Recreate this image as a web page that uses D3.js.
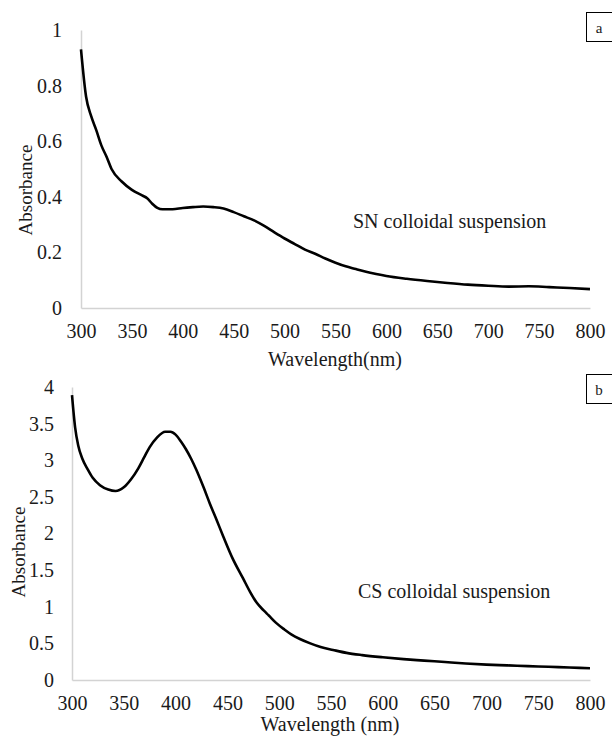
<!DOCTYPE html>
<html>
<head>
<meta charset="utf-8">
<script src="https://cdn.jsdelivr.net/npm/d3@7"></script>
<style>
  html, body { margin: 0; padding: 0; background: #fff; }
  svg { display: block; font-family: "Liberation Serif", "DejaVu Serif", serif; }
</style>
</head>
<body>
<svg id="chart" width="612" height="737"></svg>
<script>
// panel a: SN colloidal suspension
const snWavelength = [300, 305, 310, 315, 320, 325, 330, 340, 350, 360, 365, 370, 375, 380, 390, 400, 410, 420, 430, 440, 450, 460, 470, 480, 490, 500, 510, 520, 530, 540, 550, 560, 570, 580, 590, 600, 620, 640, 660, 680, 700, 720, 740, 760, 780, 800];
const snAbsorbance = [0.93, 0.76, 0.69, 0.64, 0.585, 0.545, 0.50, 0.455, 0.425, 0.405, 0.395, 0.375, 0.36, 0.355, 0.355, 0.36, 0.363, 0.365, 0.363, 0.358, 0.345, 0.33, 0.315, 0.295, 0.272, 0.25, 0.23, 0.21, 0.195, 0.178, 0.163, 0.15, 0.14, 0.13, 0.122, 0.115, 0.105, 0.097, 0.09, 0.084, 0.08, 0.077, 0.078, 0.075, 0.072, 0.068];

// panel b: CS colloidal suspension
const csWavelength = [300, 303, 306, 310, 315, 320, 327, 335, 342, 350, 357, 364, 370, 375, 382, 390, 395, 400, 405, 410, 415, 420, 427, 433, 440, 446, 455, 465, 472, 478, 485, 490, 497, 505, 512, 520, 530, 540, 552, 565, 580, 600, 620, 640, 660, 680, 700, 720, 740, 760, 780, 800];
const csAbsorbance = [3.89, 3.45, 3.2, 3.02, 2.88, 2.76, 2.66, 2.60, 2.58, 2.63, 2.74, 2.89, 3.05, 3.18, 3.31, 3.39, 3.39, 3.35, 3.26, 3.15, 3.02, 2.87, 2.63, 2.41, 2.17, 1.96, 1.66, 1.39, 1.20, 1.06, 0.95, 0.88, 0.78, 0.69, 0.62, 0.56, 0.50, 0.45, 0.41, 0.37, 0.34, 0.31, 0.285, 0.265, 0.245, 0.225, 0.21, 0.20, 0.19, 0.18, 0.17, 0.16];

const xTicks = [300, 350, 400, 450, 500, 550, 600, 650, 700, 750, 800];
const snYTicks = [0, 0.2, 0.4, 0.6, 0.8, 1];
const csYTicks = [0, 0.5, 1, 1.5, 2, 2.5, 3, 3.5, 4];

const FONT = "Liberation Serif, DejaVu Serif, serif";
const svg = d3.select("#chart");

function drawPanel(opt) {
    const data = opt.wl.map((w, i) => ({ w: w, a: opt.abs[i] }));

    const x = d3.scaleLinear().domain([300, 800]).range([opt.left, 590]);
    const y = d3.scaleLinear().domain(opt.yDomain).range([opt.bottom, opt.top]);

    const g = svg.append("g");

    // axes (light grey lines, no tick marks)
    const xAxis = g.append("g")
        .attr("transform", `translate(0,${opt.bottom})`)
        .call(d3.axisBottom(x).tickValues(xTicks).tickSize(0).tickPadding(16).tickFormat(d3.format("d")));
    const yAxis = g.append("g")
        .attr("transform", `translate(${opt.left},0)`)
        .call(d3.axisLeft(y).tickValues(opt.yTicks).tickSize(0).tickPadding(opt.yPad).tickFormat(d => String(d)));

    [xAxis, yAxis].forEach(a => {
        a.attr("font-family", FONT).attr("font-size", 20);
        a.select(".domain").attr("stroke", "#d3d3d3").attr("stroke-width", 1.5);
        a.selectAll("text").attr("fill", "#1a1a1a");
    });

    // curve
    g.append("path")
        .datum(data)
        .attr("fill", "none")
        .attr("stroke", "#000")
        .attr("stroke-width", 2.6)
        .attr("stroke-linejoin", "round")
        .attr("d", d3.line().x(d => x(d.w)).y(d => y(d.a)).curve(d3.curveMonotoneX));

    // axis titles
    g.append("text")
        .attr("x", opt.xTitleX)
        .attr("y", opt.xTitleY)
        .attr("text-anchor", "middle")
        .attr("font-family", FONT)
        .attr("font-size", 20)
        .attr("fill", "#1a1a1a")
        .text(opt.xTitle);

    g.append("text")
        .attr("transform", `translate(${opt.yTitleX},${opt.yTitleY}) rotate(-90)`)
        .attr("text-anchor", "middle")
        .attr("font-family", FONT)
        .attr("font-size", 19)
        .attr("fill", "#1a1a1a")
        .text("Absorbance");

    // series annotation
    g.append("text")
        .attr("x", opt.noteX)
        .attr("y", opt.noteY)
        .attr("font-family", FONT)
        .attr("font-size", 20)
        .attr("fill", "#1a1a1a")
        .text(opt.note);

    // panel letter box
    g.append("rect")
        .attr("x", 586.5)
        .attr("y", opt.boxY)
        .attr("width", 30)
        .attr("height", 29)
        .attr("fill", "#fff")
        .attr("stroke", "#000")
        .attr("stroke-width", 1);
    g.append("text")
        .attr("x", 599)
        .attr("y", opt.boxY + 20)
        .attr("text-anchor", "middle")
        .attr("font-family", FONT)
        .attr("font-size", 15)
        .attr("fill", "#1a1a1a")
        .text(opt.letter);
}

drawPanel({
    wl: snWavelength, abs: snAbsorbance,
    yDomain: [0, 1], yTicks: snYTicks,
    left: 81, top: 30, bottom: 308, yPad: 19,
    xTitle: "Wavelength(nm)", xTitleX: 335, xTitleY: 366,
    yTitleX: 32, yTitleY: 190,
    note: "SN colloidal suspension", noteX: 353, noteY: 228,
    letter: "a", boxY: 12.5
});

drawPanel({
    wl: csWavelength, abs: csAbsorbance,
    yDomain: [0, 4], yTicks: csYTicks,
    left: 72, top: 387, bottom: 680, yPad: 18,
    xTitle: "Wavelength (nm)", xTitleX: 330, xTitleY: 731,
    yTitleX: 25, yTitleY: 552,
    note: "CS colloidal suspension", noteX: 358, noteY: 598,
    letter: "b", boxY: 374.5
});
</script>
</body>
</html>
